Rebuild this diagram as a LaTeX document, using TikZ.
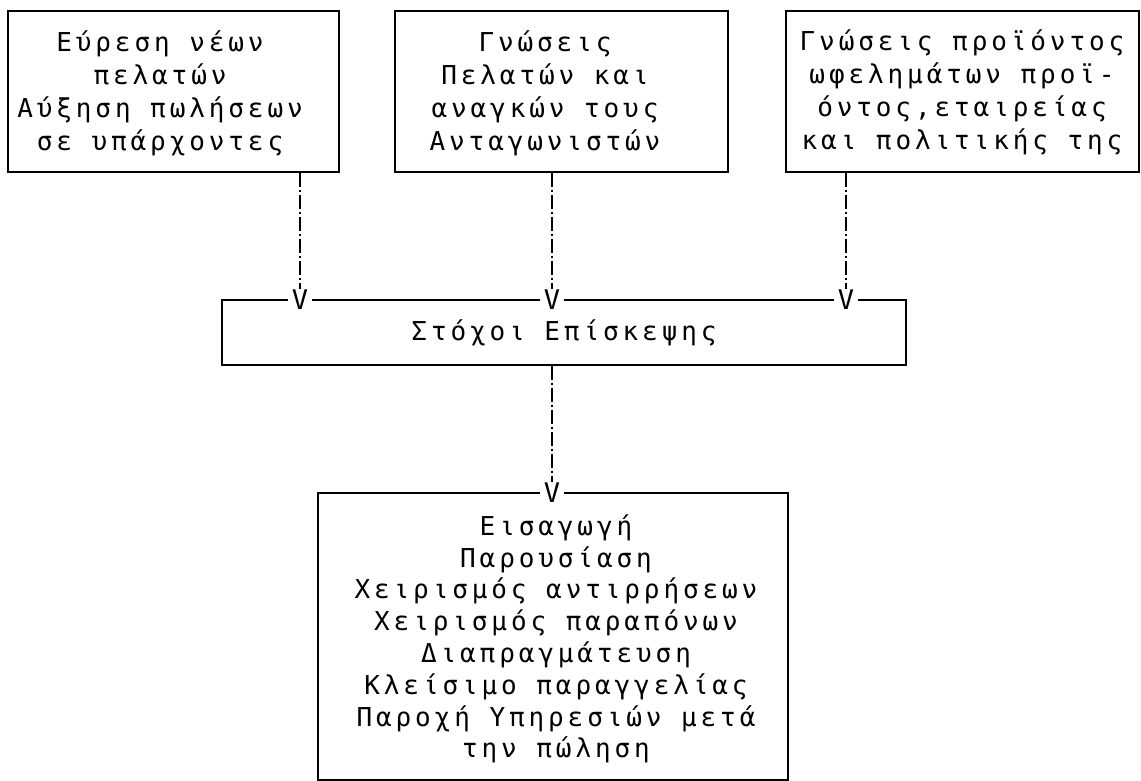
\documentclass[tikz,border=0pt]{standalone}
\usepackage{fontspec}
\newfontfamily\plotfont[LetterSpace=15]{DejaVu Sans Mono}
\newfontfamily\vfont{DejaVu Sans Mono}
\begin{document}
\begin{tikzpicture}[x=1pt,y=-1pt,
  box/.style={draw, line width=1.3pt, inner sep=0pt},
  txt/.style={font=\plotfont\fontsize{26}{31.8}\selectfont, align=center, inner sep=0pt},
  toptxt/.style={txt, font=\plotfont\fontsize{26}{33}\selectfont},
  vmark/.style={font=\vfont\fontsize{27}{27}\selectfont, fill=white, inner xsep=4pt, inner ysep=0pt, anchor=base},
  conn/.style={line width=1.3pt, dash pattern=on 14pt off 3pt on 2pt off 3pt}]
\useasboundingbox (0,0) rectangle (1141,781);
% top boxes
\node[box, minimum width=331pt, minimum height=161pt] (b1) at (173.5,91.5) {};
\node[box, minimum width=333pt, minimum height=161pt] (b2) at (561.5,91.5) {};
\node[box, minimum width=353pt, minimum height=161pt] (b3) at (962.5,91.5) {};
\node[toptxt] (t1) at (160,93) {Εύρεση νέων\\πελατών\\Αύξηση πωλήσεων\\σε υπάρχοντες};
\node[toptxt] (t2) at (545,93) {Γνώσεις\\Πελατών και\\αναγκών τους\\Ανταγωνιστών};
\node[toptxt] (t3) at (962,92) {Γνώσεις προϊόντος\\ωφελημάτων προϊ-\\όντος,εταιρείας\\και πολιτικής της};
% middle box
\node[box, minimum width=684pt, minimum height=65pt] (m) at (564,332.5) {};
\node[txt] (tm) at (564,333) {Στόχοι Επίσκεψης};
% bottom box
\node[box, minimum width=470pt, minimum height=287pt] (bb) at (553,636.5) {};
\node[txt] (tb) at (556,639) {Εισαγωγή\\Παρουσίαση\\Χειρισμός αντιρρήσεων\\Χειρισμός παραπόνων\\Διαπραγμάτευση\\Κλείσιμο παραγγελίας\\Παροχή Υπηρεσιών μετά\\την πώληση};
% arrow marks
\node[vmark] (v1) at (300,309) {V};
\node[vmark] (v2) at (552,309) {V};
\node[vmark] (v3) at (846,309) {V};
\node[vmark] (v4) at (552,502) {V};
% connectors
\draw[conn] (b1.south -| v1) -- (v1.north);
\draw[conn] (b2.south -| v2) -- (v2.north);
\draw[conn] (b3.south -| v3) -- (v3.north);
\draw[conn] (m.south -| v4) -- (v4.north);
\end{tikzpicture}
\end{document}
